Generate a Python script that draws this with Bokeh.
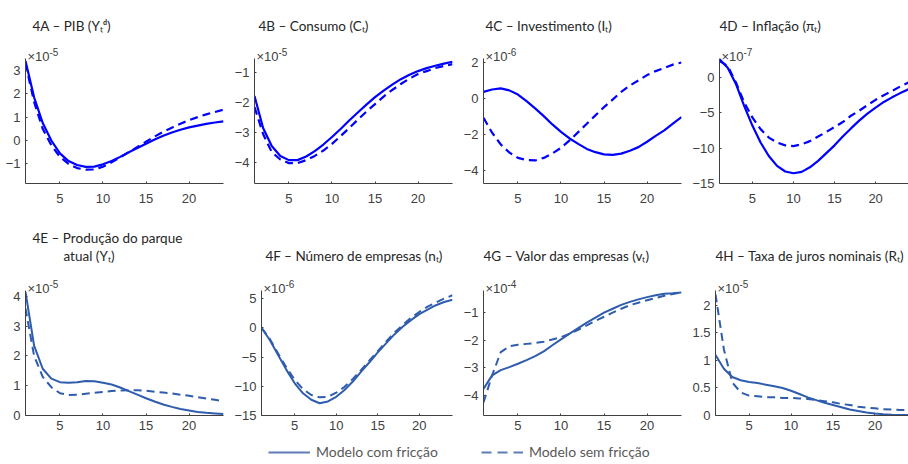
from bokeh.plotting import figure
from bokeh.layouts import column, row
from bokeh.models import Range1d, Label, FixedTicker, Legend, LegendItem, NumeralTickFormatter
from bokeh.embed import file_html
from bokeh.resources import INLINE

# ---------------- data ----------------
t = list(range(1, 25))

a_fric = [3.4, 1.85, 0.75, 0.0, -0.55, -0.88, -1.05, -1.13, -1.12, -1.02, -0.88, -0.7,
          -0.5, -0.32, -0.14, 0.04, 0.2, 0.34, 0.46, 0.56, 0.64, 0.71, 0.77, 0.82]
a_nofric = [3.3, 1.65, 0.5, -0.2, -0.7, -1.0, -1.18, -1.25, -1.24, -1.12, -0.93, -0.72,
            -0.5, -0.28, -0.05, 0.17, 0.37, 0.55, 0.72, 0.87, 1.0, 1.12, 1.22, 1.32]

b_fric = [-1.78, -2.85, -3.45, -3.78, -3.92, -3.92, -3.8, -3.62, -3.4, -3.15, -2.88, -2.6,
          -2.33, -2.07, -1.82, -1.6, -1.4, -1.22, -1.07, -0.95, -0.85, -0.77, -0.7, -0.64]
b_nofric = [-2.15, -3.05, -3.65, -3.9, -4.02, -4.02, -3.92, -3.78, -3.6, -3.38, -3.12, -2.85,
            -2.57, -2.3, -2.05, -1.8, -1.58, -1.38, -1.2, -1.05, -0.95, -0.85, -0.78, -0.72]

c_fric = [0.37, 0.5, 0.56, 0.45, 0.22, -0.15, -0.55, -0.98, -1.44, -1.85, -2.22, -2.52,
          -2.8, -2.98, -3.1, -3.13, -3.06, -2.9, -2.7, -2.4, -2.08, -1.77, -1.4, -1.03]
c_nofric = [-1.07, -1.9, -2.55, -3.0, -3.3, -3.42, -3.44, -3.3, -3.05, -2.74, -2.33, -1.87,
            -1.4, -0.94, -0.48, -0.06, 0.37, 0.72, 1.0, 1.3, 1.52, 1.7, 1.88, 2.0]

d_fric = [2.6, 1.4, -0.9, -4.0, -6.8, -9.2, -11.1, -12.5, -13.3, -13.55, -13.35, -12.7,
          -11.8, -10.7, -9.6, -8.35, -7.2, -6.1, -5.1, -4.25, -3.45, -2.8, -2.2, -1.65]
d_nofric = [2.35, 1.65, -0.7, -3.5, -5.65, -7.3, -8.5, -9.2, -9.6, -9.7, -9.45, -9.0,
            -8.35, -7.7, -7.0, -6.3, -5.4, -4.7, -3.9, -3.15, -2.5, -1.9, -1.25, -0.7]

e_fric = [4.15, 2.35, 1.57, 1.24, 1.12, 1.1, 1.12, 1.16, 1.15, 1.1, 1.04, 0.94,
          0.82, 0.7, 0.58, 0.47, 0.37, 0.29, 0.22, 0.17, 0.12, 0.09, 0.07, 0.05]
e_nofric = [3.6, 2.0, 1.3, 0.95, 0.75, 0.69, 0.7, 0.73, 0.76, 0.79, 0.82, 0.84,
            0.85, 0.85, 0.83, 0.8, 0.77, 0.74, 0.7, 0.66, 0.62, 0.57, 0.53, 0.48]

f_fric = [0.0, -2.1, -4.65, -7.2, -9.5, -11.2, -12.3, -12.9, -12.6, -11.8, -10.65, -9.2,
          -7.5, -5.9, -4.2, -2.67, -1.14, 0.17, 1.3, 2.33, 3.1, 3.85, 4.4, 4.8]
f_nofric = [0.0, -1.9, -4.4, -6.8, -8.9, -10.5, -11.5, -11.9, -11.8, -11.1, -10.1, -8.75,
            -7.2, -5.6, -4.0, -2.4, -0.85, 0.45, 1.7, 2.7, 3.6, 4.3, 5.0, 5.55]

g_fric = [-3.76, -3.27, -3.08, -2.97, -2.85, -2.72, -2.57, -2.4, -2.18, -1.97, -1.76, -1.56,
          -1.36, -1.18, -1.0, -0.86, -0.72, -0.61, -0.52, -0.44, -0.37, -0.32, -0.3, -0.27]
g_nofric = [-4.25, -3.27, -2.43, -2.22, -2.16, -2.13, -2.1, -2.05, -1.97, -1.89, -1.76, -1.62,
            -1.46, -1.3, -1.15, -1.0, -0.86, -0.73, -0.64, -0.55, -0.47, -0.39, -0.33, -0.27]

h_fric = [1.1, 0.85, 0.7, 0.64, 0.61, 0.59, 0.56, 0.53, 0.5, 0.45, 0.39, 0.33,
          0.28, 0.23, 0.19, 0.15, 0.11, 0.08, 0.055, 0.036, 0.024, 0.015, 0.01, 0.008]
h_nofric = [2.2, 1.2, 0.6, 0.42, 0.36, 0.35, 0.33, 0.33, 0.32, 0.32, 0.31, 0.3,
            0.28, 0.26, 0.24, 0.21, 0.19, 0.16, 0.145, 0.13, 0.115, 0.11, 0.1, 0.1]

x_ticks = [5, 10, 15, 20]
legend_labels = ["Modelo com fricção", "Modelo sem fricção"]

# ---------------- styling ----------------
TITLE_FONT = "Lato"
TICK_FONT = "Liberation Sans"
LEGEND_FONT = "Lato"
TEXT_COLOR = "#262626"
TICK_COLOR = "#404040"
BLUE_TOP = "#0000ff"
BLUE_BOT = "#2f5cad"
LEGEND_BLUE = "#5e7db8"

FRAME_H = 125  # height of the visible axes box


def make_panel(width, border_left, border_right, head, border_bottom, x_standoff,
               y_lo, y_hi, y_ticks, fric, nofric, color, titles, exponent, lw=2.2):
    # the frame also covers the heading area above the axes box, so that
    # titles placed there are drawn; the y axis itself is bounded to [y_lo, y_hi]
    ppu = FRAME_H / (y_hi - y_lo)
    y_top = y_hi + head / ppu
    p = figure(width=width, height=head + FRAME_H + border_bottom,
               x_range=Range1d(1, 24), y_range=Range1d(y_lo, y_top),
               output_backend="svg", toolbar_location=None, title=None,
               min_border_left=border_left, min_border_right=border_right,
               min_border_top=0, min_border_bottom=border_bottom)
    p.outline_line_color = None
    p.xgrid.visible = False
    p.ygrid.visible = False
    p.background_fill_color = "white"
    p.border_fill_color = "white"
    for ax in (p.xaxis[0], p.yaxis[0]):
        ax.axis_line_color = TICK_COLOR
        ax.major_tick_line_color = TICK_COLOR
        ax.major_tick_in = 2
        ax.major_tick_out = 0
        ax.minor_tick_line_color = None
        ax.major_label_text_font = TICK_FONT
        ax.major_label_text_font_size = "13px"
        ax.major_label_text_color = TICK_COLOR
    p.xaxis[0].ticker = FixedTicker(ticks=x_ticks)
    p.xaxis[0].major_label_standoff = x_standoff
    p.yaxis[0].ticker = FixedTicker(ticks=y_ticks)
    p.yaxis[0].major_label_standoff = 5
    p.yaxis[0].bounds = (y_lo, y_hi)
    if any(abs(v - round(v)) > 1e-9 for v in y_ticks):
        p.yaxis[0].formatter = NumeralTickFormatter(format="0.[0]")

    p.line(t, fric, line_color=color, line_width=lw)
    p.line(t, nofric, line_color=color, line_width=lw, line_dash="8 5")

    # titles: (text, x offset from axes left, baseline height above axes top)
    for txt, dx, dy in titles:
        p.add_layout(Label(x=dx, y=FRAME_H + dy, x_units="screen", y_units="screen",
                           text=txt, text_font=TITLE_FONT, text_font_size="13.5px",
                           text_color=TEXT_COLOR, text_baseline="alphabetic"))
    # exponent marker
    p.add_layout(Label(x=2, y=FRAME_H + 2, x_units="screen", y_units="screen",
                       text="×10", text_font=TICK_FONT, text_font_size="13px",
                       text_color=TICK_COLOR, text_baseline="alphabetic"))
    p.add_layout(Label(x=24, y=FRAME_H + 7, x_units="screen", y_units="screen",
                       text=exponent, text_font=TICK_FONT, text_font_size="10px",
                       text_color=TICK_COLOR, text_baseline="alphabetic"))
    return p


H1, B1, S1 = 58, 27, 10
H2, B2, S2 = 80, 23, 5

pA = make_panel(231, 25, 8, H1, B1, S1, -1.84, 3.51, [-1, 0, 1, 2, 3], a_fric, a_nofric,
                BLUE_TOP, [("4A – PIB (Yₜᵈ)", 7, 33)], "-5")
pB = make_panel(229, 23, 8, H1, B1, S1, -4.7, -0.53, [-4, -3, -2, -1], b_fric, b_nofric,
                BLUE_TOP, [("4B – Consumo (Cₜ)", 4, 33)], "-5")
pC = make_panel(229, 23, 8, H1, B1, S1, -4.72, 2.22, [-4, -2, 0, 2], c_fric, c_nofric,
                BLUE_TOP, [("4C – Investimento (Iₜ)", 2, 33)], "-6")
pD = make_panel(219, 23, 0, H1, B1, S1, -15, 2.7, [-15, -10, -5, 0], d_fric, d_nofric,
                BLUE_TOP, [("4D – Inflação (πₜ)", 0, 33)], "-7")

pE = make_panel(231, 25, 8, H2, B2, S2, 0, 4.2, [0, 1, 2, 3, 4], e_fric, e_nofric,
                BLUE_BOT, [("4E – Produção do parque", 7, 53), ("atual (Yₜ)", 38, 35)], "-5", lw=2)
pF = make_panel(229, 23, 8, H2, B2, S2, -15, 6.37, [-15, -10, -5, 0, 5], f_fric, f_nofric,
                BLUE_BOT, [("4F – Número de empresas (nₜ)", 4, 35)], "-6", lw=2)
pG = make_panel(229, 23, 8, H2, B2, S2, -4.72, -0.2, [-4, -3, -2, -1], g_fric, g_nofric,
                BLUE_BOT, [("4G – Valor das empresas (vₜ)", 0, 35)], "-4", lw=2)
pH = make_panel(219, 23, 0, H2, B2, S2, 0, 2.27, [0, 0.5, 1, 1.5, 2], h_fric, h_nofric,
                BLUE_BOT, [("4H – Taxa de juros nominais (Rₜ)", 0, 35)], "-5", lw=2)

# ---------------- legend strip ----------------
pL = figure(width=908, height=26, output_backend="svg", toolbar_location=None, title=None,
            x_axis_type=None, y_axis_type=None, x_range=Range1d(0, 1), y_range=Range1d(0, 1),
            min_border_left=0, min_border_right=0, min_border_top=0, min_border_bottom=0)
pL.outline_line_color = None
pL.xgrid.visible = False
pL.ygrid.visible = False
nan = float("nan")
r_solid = pL.line(x=[nan], y=[nan], line_color=LEGEND_BLUE, line_width=2)
r_dash = pL.line(x=[nan], y=[nan], line_color=LEGEND_BLUE, line_width=2, line_dash="10 6")
leg = Legend(items=[LegendItem(label=legend_labels[0], renderers=[r_solid]),
                    LegendItem(label=legend_labels[1], renderers=[r_dash])],
             location=(268, 4), orientation="horizontal",
             glyph_width=42, glyph_height=14, label_height=14, label_standoff=6, spacing=43,
             padding=0, margin=0, border_line_color=None, background_fill_alpha=0,
             label_text_font=LEGEND_FONT, label_text_font_size="14px", label_text_color="#595959")
pL.add_layout(leg)

layout = column(row(pA, pB, pC, pD), row(pE, pF, pG, pH), pL)

open("out.html", "w").write(file_html(layout, INLINE))
